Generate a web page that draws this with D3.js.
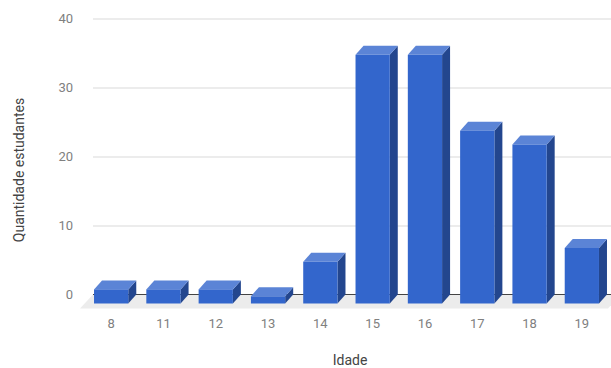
<!DOCTYPE html>
<html>
<head>
<meta charset="utf-8">
<script src="https://cdn.jsdelivr.net/npm/d3@7"></script>
<style>
  body { margin: 0; background: #fff; }
  svg { display: block; font-family: Roboto, "Noto Sans", sans-serif; }
</style>
</head>
<body>
<svg></svg>
<script>
// data
const ages = ["8", "11", "12", "13", "14", "15", "16", "17", "18", "19"];
const counts = [1, 1, 1, 0, 5, 35, 35, 24, 22, 7];
const yTicks = [0, 10, 20, 30, 40];

const width = 611;
const height = 368;
const depthX = 8;
const depthY = 9;
const svg = d3.select("svg").attr("width", width).attr("height", height);

// front plane of the bars
const xScale = d3
  .scaleBand()
  .domain(ages)
  .range([85, 608])
  .paddingInner(0.345)
  .paddingOuter(0.1725);

// back wall (gridlines live here)
const yScale = d3.scaleLinear().domain([0, 40]).range([294.5, 18.5]);

const wallLeft = 85 + depthX;
const frontBase = yScale(0) + depthY;

// gridlines + y labels
const yAxis = d3
  .axisLeft(yScale)
  .tickValues(yTicks)
  .tickSize(-(width - wallLeft))
  .tickPadding(20);

const gy = svg
  .append("g")
  .attr("transform", "translate(" + wallLeft + ",0)")
  .call(yAxis);
gy.select(".domain").remove();
gy.selectAll(".tick line").attr("stroke", "#d9d9d9");
gy.selectAll(".tick text")
  .attr("fill", "#808080")
  .style("font-size", "13px")
  .style("font-family", "Roboto, sans-serif");

// floor
const floorFront = yScale(0) + 14;
svg
  .append("path")
  .attr(
    "d",
    d3.line()([
      [wallLeft, yScale(0)],
      [wallLeft + 528, yScale(0)],
      [608, floorFront],
      [80, floorFront],
    ]) + "Z"
  )
  .attr("fill", "#ececec");

// zero baseline
svg
  .append("line")
  .attr("x1", wallLeft)
  .attr("x2", width)
  .attr("y1", yScale(0))
  .attr("y2", yScale(0))
  .attr("stroke", "#444")
  .attr("stroke-width", 1);

// 3d bars
const bars = svg
  .selectAll("g.bar")
  .data(ages.map((a, i) => ({ age: a, value: counts[i] })))
  .enter()
  .append("g")
  .attr("class", "bar");

const frontTop = (d) => yScale(d.value) + 1.8;

bars
  .append("path")
  .attr("fill", "#23468e")
  .attr("d", (d) => {
    const x1 = xScale(d.age) + xScale.bandwidth();
    const t = frontTop(d);
    return (
      d3.line()([
        [x1, t],
        [x1 + depthX, t - depthY],
        [x1 + depthX, frontBase - depthY],
        [x1, frontBase],
      ]) + "Z"
    );
  });

bars
  .append("path")
  .attr("fill", "#5b84d6")
  .attr("d", (d) => {
    const x0 = xScale(d.age);
    const x1 = x0 + xScale.bandwidth();
    const t = frontTop(d);
    return (
      d3.line()([
        [x0, t],
        [x0 + depthX, t - depthY],
        [x1 + depthX, t - depthY],
        [x1, t],
      ]) + "Z"
    );
  });

bars
  .append("rect")
  .attr("fill", "#3366cc")
  .attr("x", (d) => xScale(d.age))
  .attr("width", xScale.bandwidth())
  .attr("y", (d) => frontTop(d))
  .attr("height", (d) => frontBase - frontTop(d));

// x labels
const xAxis = d3.axisBottom(xScale).tickSize(0).tickPadding(15);
const gx = svg
  .append("g")
  .attr("transform", "translate(0," + frontBase + ")")
  .call(xAxis);
gx.select(".domain").remove();
gx.selectAll(".tick text")
  .attr("fill", "#808080")
  .style("font-size", "13px")
  .style("font-family", "Roboto, sans-serif");

// axis titles
svg
  .append("text")
  .attr("x", 350)
  .attr("y", 365)
  .attr("text-anchor", "middle")
  .attr("fill", "#444")
  .style("font-size", "14px")
  .text("Idade");

svg
  .append("text")
  .attr("transform", "translate(24,170) rotate(-90)")
  .attr("text-anchor", "middle")
  .attr("fill", "#444")
  .style("font-size", "14px")
  .text("Quantidade estudantes");
</script>
</body>
</html>
